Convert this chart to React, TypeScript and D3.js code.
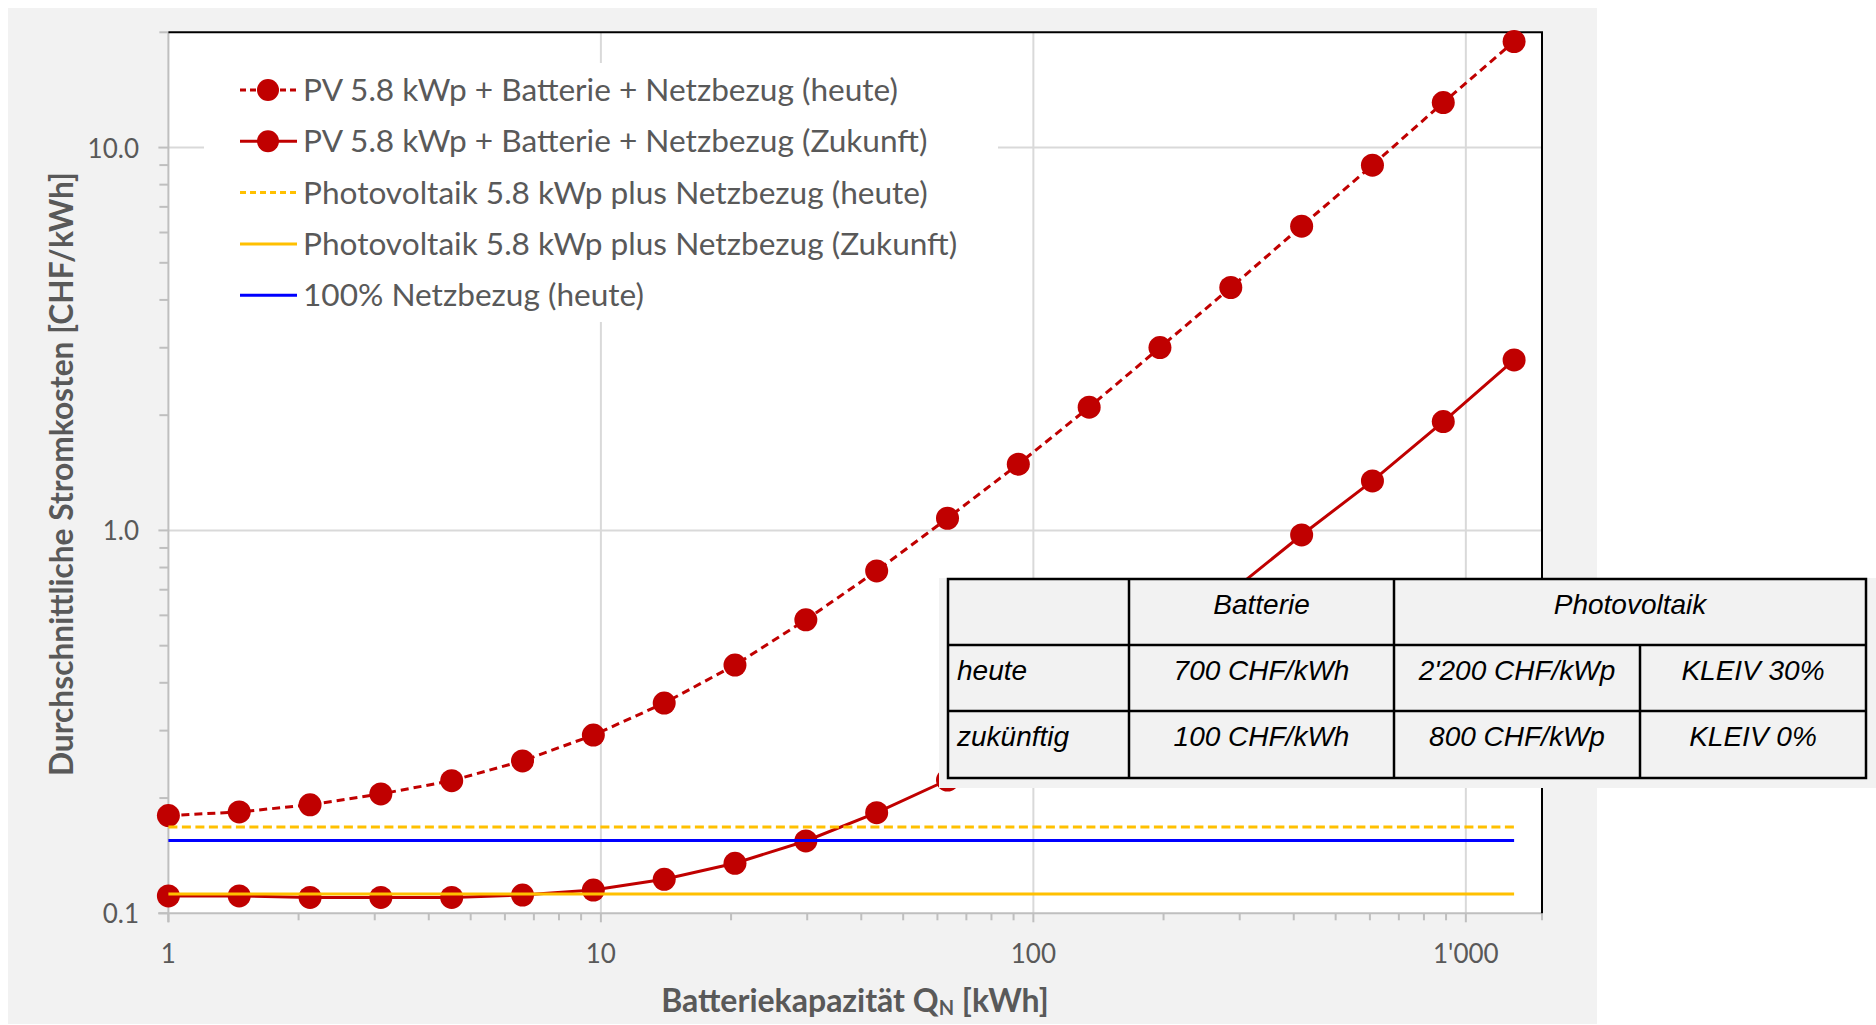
import * as d3 from "d3";
import { useEffect, useRef } from "react";

// Batteriekapazität der gerechneten Punkte [kWh]
const capacity = [1, 1.458, 2.126, 3.099, 4.519, 6.589, 9.607, 14.01, 20.42, 29.78, 43.42, 63.31, 92.3, 134.6, 196.2, 286.1, 417.2, 608.2, 886.8, 1293];

// Durchschnittliche Stromkosten [CHF/kWh]
const costBatteryToday = [0.18, 0.184, 0.192, 0.205, 0.222, 0.25, 0.292, 0.354, 0.445, 0.584, 0.784, 1.076, 1.489, 2.098, 3.004, 4.31, 6.233, 8.995, 13.11, 18.92];
const costBatteryFuture = [0.111, 0.111, 0.11, 0.11, 0.11, 0.1116, 0.115, 0.1227, 0.1351, 0.1545, 0.1831, 0.2229, 0.281, 0.37, 0.499, 0.69, 0.973, 1.347, 1.924, 2.789];

// konstante Vergleichswerte
const costPvToday = 0.168;
const costPvFuture = 0.1123;
const costGridToday = 0.155;

const xTicks = [1, 10, 100, 1000];
const xTickLabels = ["1", "10", "100", "1'000"];
const yTicks = [0.1, 1, 10];
const yTickLabels = ["0.1", "1.0", "10.0"];

const legendLabels = [
  "PV 5.8 kWp + Batterie + Netzbezug (heute)",
  "PV 5.8 kWp + Batterie + Netzbezug (Zukunft)",
  "Photovoltaik 5.8 kWp plus Netzbezug (heute)",
  "Photovoltaik 5.8 kWp plus Netzbezug (Zukunft)",
  "100% Netzbezug (heute)",
];

const tableHead = ["", "Batterie", "Photovoltaik"];
const tableRows = [
  ["heute", "700 CHF/kWh", "2'200 CHF/kWp", "KLEIV 30%"],
  ["zukünftig", "100 CHF/kWh", "800 CHF/kWp", "KLEIV 0%"],
];

const RED = "#c00000";
const YELLOW = "#ffc000";
const BLUE = "#0000ff";
const GREY_TEXT = "#595959";
const FONT = "Lato, 'Open Sans', sans-serif";

function App() {
  const ref = useRef(null);

  useEffect(() => {
    const svg = d3.select(ref.current);
    svg.selectAll("*").remove();

    const left = 168.4, right = 1542, top = 32.3, bottom = 913.3;

    const x = d3.scaleLog().domain([1, 1500]).range([left, right]);
    const y = d3.scaleLog().domain([0.1, 20]).range([bottom, top]);

    // chart background
    svg.append("rect").attr("x", 8).attr("y", 8).attr("width", 1589).attr("height", 1016).attr("fill", "#f2f2f2");
    svg.append("rect").attr("x", left).attr("y", top).attr("width", right - left).attr("height", bottom - top).attr("fill", "#fff");

    // gridlines
    const grid = svg.append("g").attr("stroke", "#d9d9d9").attr("stroke-width", 2);
    xTicks.slice(1).forEach((t) => {
      grid.append("line").attr("x1", x(t)).attr("x2", x(t)).attr("y1", top).attr("y2", bottom);
    });
    yTicks.slice(1).forEach((t) => {
      grid.append("line").attr("x1", left).attr("x2", right).attr("y1", y(t)).attr("y2", y(t));
    });

    // legend background hides the grid
    svg.append("rect").attr("x", 204).attr("y", 63).attr("width", 794).attr("height", 259).attr("fill", "#fff");

    // axes
    const axes = svg.append("g").attr("stroke", "#bfbfbf").attr("stroke-width", 2);
    axes.append("line").attr("x1", left).attr("x2", left).attr("y1", top).attr("y2", bottom + 9);
    axes.append("line").attr("x1", left - 10).attr("x2", right).attr("y1", bottom).attr("y2", bottom);

    xTicks.forEach((d) => {
      axes.append("line").attr("x1", x(d)).attr("x2", x(d)).attr("y1", bottom).attr("y2", bottom + 9);
      d3.range(2, 10).forEach((m) => {
        if (d * m <= 1500) {
          axes.append("line").attr("x1", x(d * m)).attr("x2", x(d * m)).attr("y1", bottom).attr("y2", bottom + 7);
        }
      });
    });
    axes.append("line").attr("x1", right).attr("x2", right).attr("y1", bottom).attr("y2", bottom + 7);

    yTicks.forEach((d) => {
      axes.append("line").attr("x1", left - 10).attr("x2", left).attr("y1", y(d)).attr("y2", y(d));
      d3.range(2, 10).forEach((m) => {
        if (d * m <= 20) {
          axes.append("line").attr("x1", left - 9).attr("x2", left).attr("y1", y(d * m)).attr("y2", y(d * m));
        }
      });
    });

    // frame top + right
    svg.append("line").attr("x1", left).attr("x2", right + 1).attr("y1", top).attr("y2", top).attr("stroke", "#000").attr("stroke-width", 2);
    svg.append("line").attr("x1", right).attr("x2", right).attr("y1", top).attr("y2", bottom).attr("stroke", "#000").attr("stroke-width", 2);

    // tick labels
    svg.append("g").selectAll("text").data(xTicks).enter().append("text")
      .attr("x", (d) => x(d)).attr("y", 953)
      .attr("text-anchor", "middle").attr("dominant-baseline", "central")
      .attr("font-family", FONT).attr("font-size", 26).attr("fill", GREY_TEXT)
      .text((d, i) => xTickLabels[i]);

    svg.append("g").selectAll("text").data(yTicks).enter().append("text")
      .attr("x", 139).attr("y", (d) => y(d))
      .attr("text-anchor", "end").attr("dominant-baseline", "central")
      .attr("font-family", FONT).attr("font-size", 26).attr("fill", GREY_TEXT)
      .text((d, i) => yTickLabels[i]);

    // axis titles
    svg.append("text")
      .attr("transform", "translate(61,474) rotate(-90)")
      .attr("text-anchor", "middle").attr("dominant-baseline", "central")
      .attr("font-family", FONT).attr("font-weight", "bold").attr("font-size", 31.7).attr("fill", GREY_TEXT)
      .text("Durchschnittliche Stromkosten [CHF/kWh]");

    const xTitle = svg.append("text")
      .attr("x", 855).attr("y", 999)
      .attr("text-anchor", "middle").attr("dominant-baseline", "central")
      .attr("font-family", FONT).attr("font-weight", "bold").attr("font-size", 32).attr("fill", GREY_TEXT);
    xTitle.append("tspan").text("Batteriekapazität Q");
    xTitle.append("tspan").attr("font-size", 20).attr("dy", 8).text("N");
    xTitle.append("tspan").attr("dy", -8).text(" [kWh]");

    // series
    const points = capacity.map((c, i) => ({ c, today: costBatteryToday[i], future: costBatteryFuture[i] }));

    const lineToday = d3.line().x((d) => x(d.c)).y((d) => y(d.today));
    const lineFuture = d3.line().x((d) => x(d.c)).y((d) => y(d.future));

    svg.append("path").attr("d", lineToday(points)).attr("fill", "none")
      .attr("stroke", RED).attr("stroke-width", 3).attr("stroke-dasharray", "8,5");
    svg.append("g").selectAll("circle").data(points).enter().append("circle")
      .attr("cx", (d) => x(d.c)).attr("cy", (d) => y(d.today)).attr("r", 11.5).attr("fill", RED);

    svg.append("path").attr("d", lineFuture(points)).attr("fill", "none")
      .attr("stroke", RED).attr("stroke-width", 3);
    svg.append("g").selectAll("circle").data(points).enter().append("circle")
      .attr("cx", (d) => x(d.c)).attr("cy", (d) => y(d.future)).attr("r", 11.5).attr("fill", RED);

    const x0 = x(capacity[0]);
    const x1 = x(capacity[capacity.length - 1]);
    const hline = (v, color, dash) => {
      svg.append("line").attr("x1", x0).attr("x2", x1).attr("y1", y(v)).attr("y2", y(v))
        .attr("stroke", color).attr("stroke-width", 3).attr("stroke-dasharray", dash);
    };
    hline(costPvToday, YELLOW, "9,4.5");
    hline(costPvFuture, YELLOW, null);
    hline(costGridToday, BLUE, null);

    // legend
    const legendStyle = [
      { color: RED, dash: "6,4", marker: true },
      { color: RED, dash: null, marker: true },
      { color: YELLOW, dash: "6,4", marker: false },
      { color: YELLOW, dash: null, marker: false },
      { color: BLUE, dash: null, marker: false },
    ];
    const legend = svg.append("g");
    legendLabels.forEach((label, i) => {
      const ly = 90 + i * 51.3;
      const s = legendStyle[i];
      legend.append("line").attr("x1", 240).attr("x2", 297).attr("y1", ly).attr("y2", ly)
        .attr("stroke", s.color).attr("stroke-width", 3).attr("stroke-dasharray", s.dash);
      if (s.marker) legend.append("circle").attr("cx", 268).attr("cy", ly).attr("r", 11).attr("fill", s.color);
      legend.append("text").attr("x", 303).attr("y", ly - 1)
        .attr("dominant-baseline", "central")
        .attr("font-family", FONT).attr("font-size", 31.6).attr("fill", GREY_TEXT)
        .text(label);
    });

    // table with cost assumptions
    const cols = [948, 1129, 1394, 1640, 1866];
    const rows = [579, 645, 711, 778];
    const table = svg.append("g");
    table.append("rect").attr("x", 939).attr("y", 578).attr("width", 937).attr("height", 210).attr("fill", "#f2f2f2");
    table.append("rect").attr("x", cols[0]).attr("y", rows[0]).attr("width", cols[4] - cols[0]).attr("height", rows[3] - rows[0])
      .attr("fill", "none").attr("stroke", "#000").attr("stroke-width", 2.5);
    [1, 2].forEach((r) => {
      table.append("line").attr("x1", cols[0]).attr("x2", cols[4]).attr("y1", rows[r]).attr("y2", rows[r]).attr("stroke", "#000").attr("stroke-width", 2.5);
    });
    [1, 2].forEach((c) => {
      table.append("line").attr("x1", cols[c]).attr("x2", cols[c]).attr("y1", rows[0]).attr("y2", rows[3]).attr("stroke", "#000").attr("stroke-width", 2.5);
    });
    table.append("line").attr("x1", cols[3]).attr("x2", cols[3]).attr("y1", rows[1]).attr("y2", rows[3]).attr("stroke", "#000").attr("stroke-width", 2.5);

    const cellText = (tx, ty, txt, anchor) => {
      table.append("text").attr("x", tx).attr("y", ty).attr("text-anchor", anchor)
        .attr("font-family", "'Liberation Sans', Arial, sans-serif").attr("font-style", "italic")
        .attr("font-size", 28).attr("fill", "#000").text(txt);
    };
    cellText((cols[1] + cols[2]) / 2, rows[0] + 35, tableHead[1], "middle");
    cellText((cols[2] + cols[4]) / 2, rows[0] + 35, tableHead[2], "middle");
    tableRows.forEach((row, r) => {
      const ty = rows[r + 1] + 35;
      cellText(cols[0] + 9, ty, row[0], "start");
      row.slice(1).forEach((txt, c) => {
        cellText((cols[c + 1] + cols[c + 2]) / 2, ty, txt, "middle");
      });
    });
  }, []);

  return (
    <svg ref={ref} width={1876} height={1025} style={{ position: "absolute", left: 0, top: 0 }}></svg>
  );
}

export default App;
